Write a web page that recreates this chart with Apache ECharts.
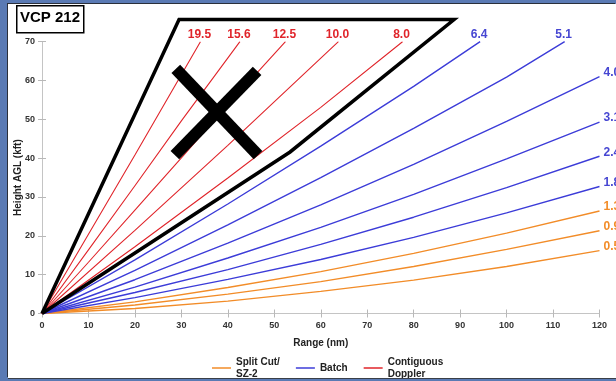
<!DOCTYPE html>
<html>
<head>
<meta charset="utf-8">
<script src="https://cdn.jsdelivr.net/npm/echarts@6/dist/echarts.min.js"></script>
<style>
  html, body { margin: 0; padding: 0; width: 616px; height: 381px; background: #5a7ab4; overflow: hidden; }
  #chart { position: absolute; left: 8px; top: 4px; width: 608px; height: 374px; background: #fff;
           box-shadow: -1px -1px 0 #2a2f3a, 0 1px 0 #3a3f48; }
</style>
</head>
<body>
<div id="chart"></div>
<script>
// beam height (kft) vs range (nm), pairs
const elev05 = [[0, 0], [20, 1.3], [40, 3.2], [60, 5.7], [80, 8.6], [100, 12.1], [120, 16.2]];
const elev09 = [[0, 0], [20, 2.2], [40, 5.0], [60, 8.2], [80, 12.1], [100, 16.5], [120, 21.3]];
const elev13 = [[0, 0], [20, 3.0], [40, 6.7], [60, 10.8], [80, 15.5], [100, 20.7], [120, 26.4]];
const elev18 = [[0, 0], [20, 4.1], [40, 8.8], [60, 13.9], [80, 19.6], [100, 25.9], [120, 32.7]];
const elev24 = [[0, 0], [20, 5.4], [40, 11.3], [60, 17.8], [80, 24.8], [100, 32.4], [120, 40.5]];
const elev31 = [[0, 0], [20, 6.8], [40, 14.3], [60, 22.2], [80, 30.7], [100, 39.8], [120, 49.3]];
const elev40 = [[0, 0], [20, 8.7], [40, 18.1], [60, 28.0], [80, 38.4], [100, 49.5], [120, 61.0]];
const elev51 = [[0, 0], [20, 11.1], [40, 22.8], [60, 35.0], [80, 47.7], [100, 60.9], [112.5, 70]];
const elev64 = [[0, 0], [20, 13.8], [40, 28.2], [60, 43.1], [80, 58.5], [94.3, 70]];
const elev80 = [[0, 0], [20, 17.2], [40, 34.9], [60, 53.1], [77.6, 70]];
const elev100 = [[0, 0], [20, 21.4], [40, 43.3], [63.8, 70]];
const elev125 = [[0, 0], [10, 13.2], [20, 26.6], [30, 40.1], [40, 53.7], [52.4, 70]];
const elev156 = [[0, 0], [10, 16.4], [20, 32.9], [30, 49.6], [42.6, 70]];
const elev195 = [[0, 0], [10, 20.4], [20, 40.8], [34.1, 70]];

// black outline and the cross drawn over the contiguous doppler sector
const outline = [[0, 0], [29.5, 75.7], [88.7, 75.7], [53.4, 41.6], [0, 0]];
const crossA = [[28.8, 63.0], [46.5, 40.8]];
const crossB = [[46.3, 62.5], [28.6, 40.8]];

const groupNames = ['Split Cut/\nSZ-2', 'Batch', 'Contiguous\nDoppler'];
const groupColors = ['#f28c28', '#3c3cd8', '#e0242a'];

const cuts = [
  { label: '0.5', data: elev05, group: 0, top: false },
  { label: '0.9', data: elev09, group: 0, top: false },
  { label: '1.3', data: elev13, group: 0, top: false },
  { label: '1.8', data: elev18, group: 1, top: false },
  { label: '2.4', data: elev24, group: 1, top: false },
  { label: '3.1', data: elev31, group: 1, top: false },
  { label: '4.0', data: elev40, group: 1, top: false },
  { label: '5.1', data: elev51, group: 1, top: true },
  { label: '6.4', data: elev64, group: 1, top: true },
  { label: '8.0', data: elev80, group: 2, top: true },
  { label: '10.0', data: elev100, group: 2, top: true },
  { label: '12.5', data: elev125, group: 2, top: true },
  { label: '15.6', data: elev156, group: 2, top: true },
  { label: '19.5', data: elev195, group: 2, top: true }
];

const chart = echarts.init(document.getElementById('chart'));

const series = cuts.map(c => ({
  name: groupNames[c.group],
  type: 'line',
  data: c.data,
  symbol: 'none',
  showSymbol: false,
  color: groupColors[c.group],
  lineStyle: { width: c.group === 2 ? 1.1 : 1.4, color: groupColors[c.group] },
  endLabel: {
    show: true,
    formatter: () => c.label,
    color: c.group === 1 ? '#4646d2' : groupColors[c.group],
    fontFamily: 'Liberation Sans',
    fontWeight: 'bold',
    fontSize: 12,
    align: c.top ? 'center' : 'left',
    verticalAlign: c.top ? 'bottom' : 'middle',
    distance: c.top ? 0 : 4,
    offset: c.top ? [-1, -1] : [0, -4]
  },
  z: 2
}));

const blackLine = (data, width) => ({
  type: 'line',
  data: data,
  symbol: 'none',
  clip: false,
  lineStyle: { color: '#000', width: width, cap: 'butt', join: 'miter' },
  silent: true,
  z: 5
});
series.push(blackLine(outline, 3.5));
series.push(blackLine(crossA, 12));
series.push(blackLine(crossB, 12));

const axisCommon = {
  type: 'value',
  axisLine: { show: true, lineStyle: { color: '#c4c4c4', width: 1 } },
  axisTick: { show: true, inside: true, length: 4, lineStyle: { color: '#b8b8b8' } },
  splitLine: { show: false },
  axisLabel: { color: '#333', fontFamily: 'Liberation Sans', fontWeight: 'bold', fontSize: 9 },
  nameMoveOverlap: false,
  nameTextStyle: { color: '#222', fontFamily: 'Liberation Sans', fontWeight: 'bold', fontSize: 10 }
};

chart.setOption({
  animation: false,
  grid: { left: 34, top: 37.7, right: 16.5, bottom: 64.5, containLabel: false, outerBoundsMode: 'none' },
  xAxis: [
    Object.assign({}, axisCommon, {
      min: 0, max: 120, interval: 10,
      name: 'Range (nm)', nameLocation: 'middle', nameGap: 24.5,
      axisLabel: Object.assign({}, axisCommon.axisLabel, { margin: 8 })
    }),
    Object.assign({}, axisCommon, {
      position: 'top', min: 0, max: 120, interval: 10,
      axisLabel: { show: false }
    })
  ],
  yAxis: [
    Object.assign({}, axisCommon, {
      min: 0, max: 70, interval: 10,
      name: 'Height AGL (kft)', nameLocation: 'middle', nameGap: 19,
      axisLabel: Object.assign({}, axisCommon.axisLabel, { margin: 7 })
    }),
    Object.assign({}, axisCommon, {
      position: 'right', min: 0, max: 70, interval: 10,
      axisLabel: { show: false }
    })
  ],
  legend: {
    data: groupNames,
    left: 199,
    top: 347,
    icon: 'rect',
    itemWidth: 19,
    itemHeight: 1.5,
    itemGap: 16,
    textStyle: { color: '#222', fontFamily: 'Liberation Sans', fontWeight: 'bold', fontSize: 10, lineHeight: 12 }
  },
  graphic: [
    {
      type: 'rect',
      left: 8, top: 1,
      shape: { width: 67, height: 27 },
      style: { fill: '#fff', stroke: '#000', lineWidth: 1.5 }
    },
    {
      type: 'text',
      left: 12, top: 6,
      style: { text: 'VCP 212', fill: '#000', font: 'bold 15px "Liberation Sans"' }
    }
  ],
  series: series
});
</script>
</body>
</html>
